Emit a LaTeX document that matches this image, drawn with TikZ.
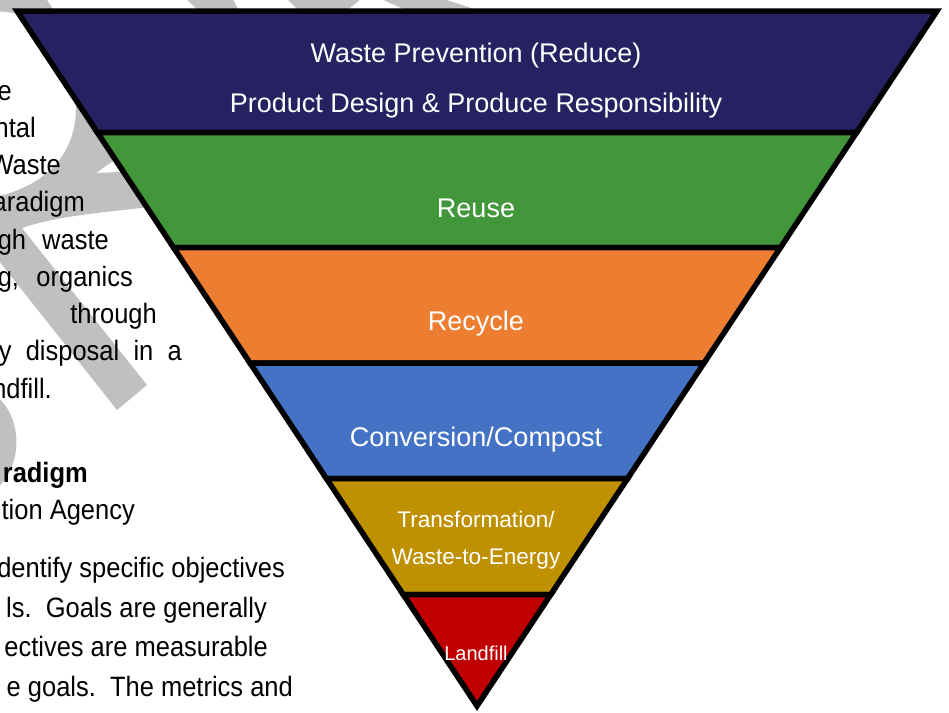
\documentclass[tikz,border=0pt]{standalone}
\usepackage{fontspec}
\setmainfont{Liberation Sans}
\newfontfamily\bodyfont[FakeStretch=0.91]{Liberation Sans}
\usepackage{tikz}
\usepackage{xcolor}

\begin{document}
\begin{tikzpicture}[x=1pt,y=-1pt,
  band/.style={draw=black,line width=5.5pt,line join=miter},
  bandlabel/.style={text=white,anchor=base,inner sep=0pt,font=\fontsize{27}{32}\selectfont},
  smalllabel/.style={text=white,anchor=base,inner sep=0pt,font=\fontsize{22.6}{27}\selectfont},
  bodyline/.style={anchor=base east,inner sep=0pt,font=\bodyfont\fontsize{28}{32}\selectfont}]
% Define colors
\definecolor{reducenavy}{RGB}{38,33,97}
\definecolor{reusegreen}{RGB}{67,151,59}
\definecolor{recycleorange}{RGB}{237,125,49}
\definecolor{compostblue}{RGB}{68,114,196}
\definecolor{energygold}{RGB}{191,144,0}
\definecolor{landfillred}{RGB}{192,0,0}
\definecolor{markgray}{RGB}{192,192,192}

\useasboundingbox (0,0) rectangle (949,712);
\clip (0,0) rectangle (949,712);

% Watermark behind the text
\fill[markgray,even odd rule]
  (-5,-5) -- (44,-5) .. controls (70,40) and (150,120) .. (160,200)
  -- (149,207) .. controls (110,212) and (60,215) .. (22,228)
  -- (147,385) -- (117,410) -- (-5,256) -- cycle
  (-5,12) .. controls (30,8) and (75,40) .. (76,105)
  .. controls (77,150) and (50,185) .. (-5,197) -- cycle
  (96,173) -- (116,159) -- (121,172) -- cycle;
\fill[markgray] (-5,395) .. controls (22,415) and (25,465) .. (-5,490) -- cycle;
\fill[markgray] (185,-2) -- (232,-2) -- (240,12) -- (200,12) -- cycle;
\fill[markgray] (286,-2) -- (362,-2) -- (345,12) -- (300,12) -- cycle;
\fill[markgray] (379,-2) -- (440,-2) -- (484,12) -- (410,12) -- cycle;

% Body text on the left
\node[bodyline] (line1) at (12,100) {e};
\node[bodyline] (line2) at (36,137.25) {ntal};
\node[bodyline] (line3) at (61,174.5) {Waste};
\node[bodyline] (line4) at (85,211.75) {aradigm};
\node[bodyline] (line5) at (109,249) {\makebox[111pt][s]{gh waste}};
\node[bodyline] (line6) at (133,286.25) {\makebox[135pt][s]{g, organics}};
\node[bodyline] (line7) at (157,323.5) {through};
\node[bodyline] (line8) at (182,360.75) {\makebox[183pt][s]{y disposal in a}};
\node[bodyline] (line9) at (52,398) {ndfill.};
\node[bodyline,font=\bodyfont\fontsize{28}{32}\selectfont\bfseries] (title) at (88,482) {radigm};
\node[bodyline] (agency) at (135,519) {tion Agency};
\node[bodyline] (goal1) at (285,577) {dentify specific objectives};
\node[bodyline] (goal2) at (267,617) {ls.\ \ Goals are generally};
\node[bodyline] (goal3) at (268,656) {ectives are measurable};
\node[bodyline] (goal4) at (293,696) {e goals.\ \ The metrics and};

% Hierarchy bands, widest on top
\draw[band,fill=reducenavy] (17,11) -- (937,11) -- (856.6,132.5) -- (97.4,132.5) -- cycle;
\draw[band,fill=reusegreen] (97.4,132.5) -- (856.6,132.5) -- (780.5,247.5) -- (173.5,247.5) -- cycle;
\draw[band,fill=recycleorange] (173.5,247.5) -- (780.5,247.5) -- (704,363) -- (250,363) -- cycle;
\draw[band,fill=compostblue] (250,363) -- (704,363) -- (627.6,478.5) -- (326.4,478.5) -- cycle;
\draw[band,fill=energygold] (326.4,478.5) -- (627.6,478.5) -- (550.8,594.5) -- (403.2,594.5) -- cycle;
\draw[band,fill=landfillred] (403.2,594.5) -- (550.8,594.5) -- (477,706) -- cycle;

% Band labels
\node[bandlabel] (reduce) at (476,62) {Waste Prevention (Reduce)};
\node[bandlabel] (design) at (476,112) {Product Design \& Produce Responsibility};
\node[bandlabel] (reuse) at (476,217) {Reuse};
\node[bandlabel] (recycle) at (476,330) {Recycle};
\node[bandlabel] (compost) at (476,446) {Conversion/Compost};
\node[smalllabel] (transform) at (476,527) {Transformation/};
\node[smalllabel] (energy) at (476,564) {Waste-to-Energy};
\node[bandlabel,font=\fontsize{20}{24}\selectfont] (landfill) at (476,660) {Landfill};
\end{tikzpicture}
\end{document}
